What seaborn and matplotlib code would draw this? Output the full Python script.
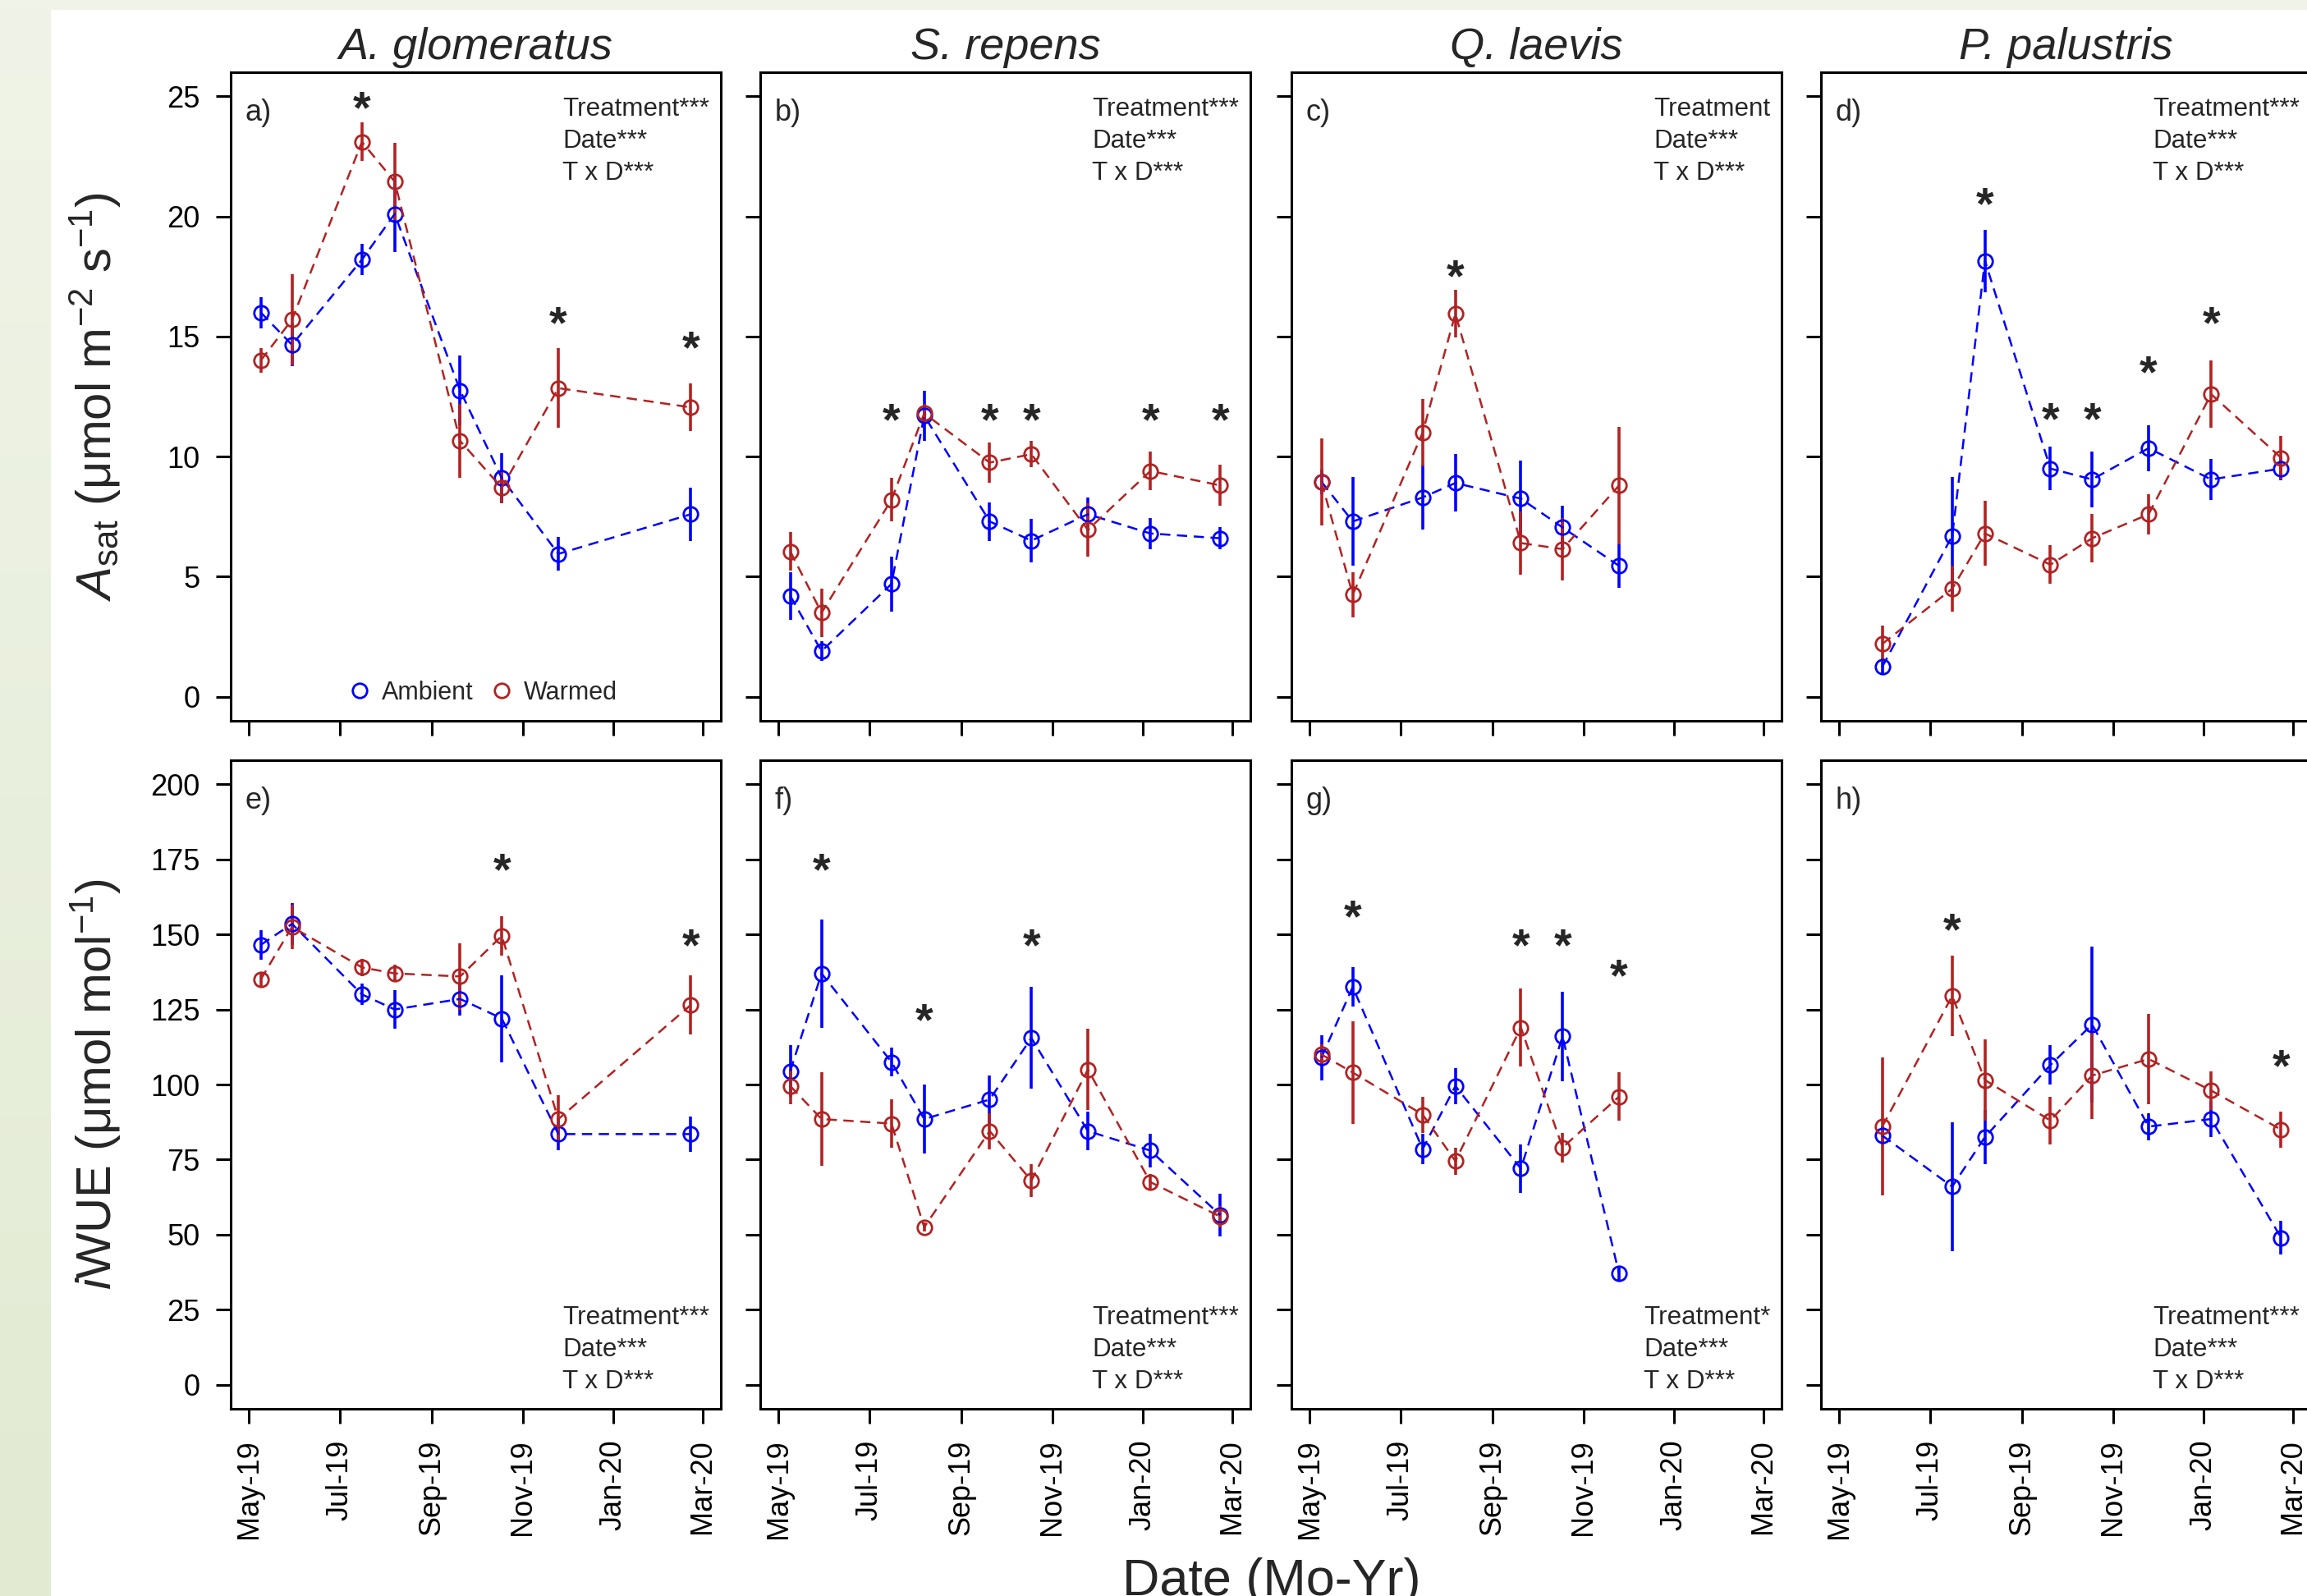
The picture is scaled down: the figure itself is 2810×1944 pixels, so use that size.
"""Leaf gas exchange (Asat and iWUE) of four species under ambient vs warmed treatment."""

import matplotlib

matplotlib.use("Agg")
import matplotlib.dates as mdates  # noqa: E402
import matplotlib.pyplot as plt  # noqa: E402
import numpy as np  # noqa: E402
import pandas as pd  # noqa: E402
import seaborn as sns  # noqa: E402
from matplotlib.lines import Line2D  # noqa: E402
from matplotlib.patches import Rectangle  # noqa: E402

# ---------------------------------------------------------------- data
SAMPLE_DATES = ["2019-05-09", "2019-05-30", "2019-07-16", "2019-08-07", "2019-09-20",
                "2019-10-18", "2019-11-25", "2020-01-06", "2020-02-22"]
TICK_MONTHS = ["2019-05-01", "2019-07-01", "2019-09-01", "2019-11-01", "2020-01-01", "2020-03-01"]

SPECIES = ["A. glomeratus", "S. repens", "Q. laevis", "P. palustris"]
# which sampling dates each species was measured on
SPECIES_DATES = [
    [0, 1, 2, 3, 4, 5, 6, 8],
    [0, 1, 2, 3, 4, 5, 6, 7, 8],
    [0, 1, 2, 3, 4, 5, 6],
    [1, 2, 3, 4, 5, 6, 7, 8],
]

# Asat (umol m-2 s-1): means and standard errors
ASAT_AMB = [
    [16.0, 14.65, 18.2, 20.1, 12.75, 9.1, 5.95, 7.6],
    [4.2, 1.9, 4.7, 11.7, 7.3, 6.5, 7.6, 6.8, 6.6],
    [8.95, 7.3, 8.3, 8.9, 8.25, 7.05, 5.45],
    [1.25, 6.7, 18.15, 9.5, 9.05, 10.35, 9.05, 9.5],
]
ASAT_AMB_SE = [
    [0.65, 0.9, 0.65, 1.6, 1.45, 1.05, 0.7, 1.1],
    [1.0, 0.4, 1.15, 1.05, 0.8, 0.9, 0.7, 0.65, 0.45],
    [0.5, 1.85, 1.35, 1.2, 1.6, 0.9, 0.9],
    [0.35, 2.45, 1.3, 0.9, 1.15, 0.95, 0.85, 0.5],
]
ASAT_WARM = [
    [14.0, 15.7, 23.1, 21.45, 10.65, 8.7, 12.85, 12.05],
    [6.05, 3.5, 8.2, 11.8, 9.75, 10.1, 6.95, 9.4, 8.8],
    [8.95, 4.25, 11.0, 15.95, 6.4, 6.15, 8.8],
    [2.2, 4.5, 6.8, 5.5, 6.6, 7.6, 12.6, 9.95],
]
ASAT_WARM_SE = [
    [0.5, 1.9, 0.8, 1.6, 1.55, 0.65, 1.65, 1.0],
    [0.8, 1.0, 0.9, 0.4, 0.85, 0.55, 1.1, 0.8, 0.85],
    [1.8, 0.95, 1.4, 1.0, 1.3, 1.3, 2.45],
    [0.75, 0.95, 1.35, 0.8, 1.0, 0.85, 1.4, 0.9],
]

# iWUE (umol mol-1): means and standard errors
IWUE_AMB = [
    [146.5, 153.5, 130.0, 125.0, 128.5, 122.0, 83.5, 83.5],
    [104.5, 137.0, 107.5, 88.5, 95.0, 115.5, 84.5, 78.0, 56.5],
    [109.0, 132.5, 78.5, 99.5, 72.0, 116.0, 37.0],
    [83.0, 66.0, 82.5, 106.5, 120.0, 86.0, 88.5, 49.0],
]
IWUE_AMB_SE = [
    [5.0, 7.0, 3.5, 6.5, 5.5, 14.5, 5.5, 5.8],
    [8.5, 18.0, 4.8, 11.5, 8.0, 17.0, 6.5, 5.5, 7.0],
    [7.5, 6.5, 5.0, 6.0, 8.0, 15.0, 2.0],
    [3.0, 21.5, 9.0, 6.5, 26.0, 4.5, 6.0, 5.5],
]
IWUE_WARM = [
    [135.0, 152.5, 139.0, 137.0, 136.0, 149.5, 88.5, 126.5],
    [99.5, 88.5, 87.0, 52.5, 84.5, 68.0, 105.0, 67.5, 56.0],
    [110.0, 104.0, 90.0, 74.5, 119.0, 79.0, 96.0],
    [86.0, 129.5, 101.5, 88.0, 103.0, 108.5, 98.0, 85.0],
]
IWUE_WARM_SE = [
    [2.3, 7.5, 2.8, 2.8, 11.0, 6.5, 8.0, 9.8],
    [6.0, 15.5, 8.0, 1.5, 6.0, 5.5, 13.5, 2.8, 3.5],
    [3.5, 17.0, 6.0, 4.5, 13.0, 5.0, 8.0],
    [23.0, 13.5, 13.5, 8.0, 14.5, 15.0, 6.5, 6.0],
]

# significant pairwise differences: index into the species' dates, and star height
ASAT_STAR_IDX = [[2, 6, 7], [2, 4, 5, 7, 8], [3], [2, 3, 4, 5, 6]]
ASAT_STAR_Y = [[24.9, 15.95, 14.9], [11.9] * 5, [17.9], [20.9, 11.95, 11.95, 13.9, 15.95]]
IWUE_STAR_IDX = [[5, 7], [1, 3, 5], [1, 4, 5, 6], [1, 7]]
IWUE_STAR_Y = [[174.5, 149.5], [174.5, 124.4, 149.5], [159.0, 149.4, 149.4, 139.3], [154.5, 109.3]]

ASAT_LETTERS = ["a)", "b)", "c)", "d)"]
IWUE_LETTERS = ["e)", "f)", "g)", "h)"]
ASAT_STATS = ["Treatment***", "Treatment***", "Treatment", "Treatment***"]
IWUE_STATS = ["Treatment***", "Treatment***", "Treatment*", "Treatment***"]

TREATMENTS = ["Ambient", "Warmed"]
COLORS = {"Ambient": "#0000FF", "Warmed": "#B22222"}

# ---------------------------------------------------------------- style
sns.set_theme(style="ticks")
plt.rcParams["font.family"] = ["Liberation Sans", "DejaVu Sans"]
plt.rcParams["mathtext.fontset"] = "custom"
plt.rcParams["mathtext.rm"] = "Liberation Sans"
plt.rcParams["mathtext.it"] = "Liberation Sans:italic"
plt.rcParams["mathtext.bf"] = "Liberation Sans:bold"

W, H, DPI = 2810, 1944, 200
LEFTS = [281, 926, 1573, 2218]
PANEL_W = 597
ROW_TOPS = [88, 926]
PANEL_H = 790
STAR_FS = 20
NOTE_FS = 11.3
MS = 6.3
DASH = (0, (5.0, 3.2))


def draw_panel(ax, x, series, star_idx, star_y):
    for name, mean, se in series:
        c = COLORS[name]
        ax.errorbar(x, mean, yerr=se, fmt="none", ecolor=c, elinewidth=1.3, capsize=0, zorder=2)
        sns.lineplot(x=x, y=mean, ax=ax, color=c, lw=0.9, linestyle=DASH, marker="o",
                     markersize=MS, markerfacecolor="none", markeredgecolor=c,
                     markeredgewidth=1.0, legend=False, zorder=3)
    for i, y in zip(star_idx, star_y):
        ax.annotate("*", (x[i], y), xytext=(0, -0.52 * STAR_FS), textcoords="offset points",
                    ha="center", va="baseline", fontsize=STAR_FS, fontweight="bold")


fig = plt.figure(figsize=(W / DPI, H / DPI), dpi=DPI, facecolor="white")

# light green page border (left gradient strip + top strip)
strip = fig.add_axes([0, 0, 62 / W, 1], zorder=-5)
top_c = np.array([240, 244, 232]) / 255
bot_c = np.array([226, 234, 210]) / 255
t = np.linspace(0, 1, 256)[:, None]
grad = (top_c[None, :] * (1 - t) + bot_c[None, :] * t)[:, None, :]
strip.imshow(grad, aspect="auto", extent=(0, 1, 0, 1))
strip.set_axis_off()
fig.patches.append(Rectangle((0, 1 - 10 / H), 1, 10 / H, transform=fig.transFigure,
                             color="#F0F4E8", zorder=-5))

lo = mdates.date2num(pd.Timestamp("2019-05-01"))
hi = mdates.date2num(pd.Timestamp("2020-03-01"))
pad = 0.04 * (hi - lo)
tick_x = mdates.date2num(pd.to_datetime(TICK_MONTHS))
all_x = mdates.date2num(pd.to_datetime(SAMPLE_DATES))

rows = [
    (ASAT_AMB, ASAT_AMB_SE, ASAT_WARM, ASAT_WARM_SE, ASAT_STAR_IDX, ASAT_STAR_Y,
     ASAT_LETTERS, ASAT_STATS, (-1, 26), np.arange(0, 26, 5)),
    (IWUE_AMB, IWUE_AMB_SE, IWUE_WARM, IWUE_WARM_SE, IWUE_STAR_IDX, IWUE_STAR_Y,
     IWUE_LETTERS, IWUE_STATS, (-8, 208), np.arange(0, 201, 25)),
]

for r, (amb, amb_se, warm, warm_se, s_idx, s_y, letters, stats, ylim, yticks) in enumerate(rows):
    for c in range(4):
        ax = fig.add_axes([LEFTS[c] / W, 1 - (ROW_TOPS[r] + PANEL_H) / H, PANEL_W / W, PANEL_H / H])
        x = all_x[SPECIES_DATES[c]]
        draw_panel(ax, x, [("Ambient", amb[c], amb_se[c]), ("Warmed", warm[c], warm_se[c])],
                   s_idx[c], s_y[c])

        ax.set_xlim(lo - pad, hi + pad)
        ax.set_ylim(*ylim)
        ax.set_xticks(tick_x)
        ax.xaxis.set_major_formatter(mdates.DateFormatter("%b-%y"))
        ax.set_yticks(yticks)
        ax.set_xlabel("")
        ax.set_ylabel("")
        for sp in ax.spines.values():
            sp.set_visible(True)
            sp.set_linewidth(1.1)
            sp.set_color("black")
        ax.tick_params(direction="out", length=6.6, width=1.1, colors="black",
                       labelsize=13, pad=6.8)
        ax.tick_params(axis="x", labelrotation=90, labelbottom=(r == 1))
        ax.tick_params(axis="y", labelleft=(c == 0))

        ax.text(0.03, 0.937, letters[c], transform=ax.transAxes, ha="left", va="center",
                fontsize=13)
        note = f"{stats[c]}\nDate***\nT x D***"
        if r == 0:
            ax.text(0.977, 0.962, note, transform=ax.transAxes, ha="right", va="top",
                    multialignment="left", linespacing=1.39, fontsize=NOTE_FS)
            ax.set_title(SPECIES[c], fontsize=19.5, style="italic", pad=5.8)
        else:
            ax.text(0.977, 0.023, note, transform=ax.transAxes, ha="right", va="bottom",
                    multialignment="left", linespacing=1.39, fontsize=NOTE_FS)

        if r == 0 and c == 0:
            handles = [Line2D([], [], ls="none", marker="o", ms=MS, mfc="none",
                              mec=COLORS[t_], mew=1.0, label=t_) for t_ in TREATMENTS]
            ax.legend(handles=handles, loc="center", bbox_to_anchor=(0.513, 0.043), ncol=2,
                      frameon=False, fontsize=11, handlelength=1.0, handletextpad=0.4,
                      columnspacing=0.6, borderpad=0, borderaxespad=0)

fig.text(0.0415, 1 - 483 / H, r"$A_{\mathrm{sat}}$ (μmol m$^{-2}$ s$^{-1}$)", rotation=90,
         ha="center", va="center", fontsize=21.5)
fig.text(0.0415, 1 - 1321 / H, r"$i$WUE (μmol mol$^{-1}$)", rotation=90,
         ha="center", va="center", fontsize=21.5)
fig.text(1549 / W, 1 / H, "Date (Mo-Yr)", ha="center", va="baseline", fontsize=22.7)

fig.savefig("out.png", dpi=DPI)
